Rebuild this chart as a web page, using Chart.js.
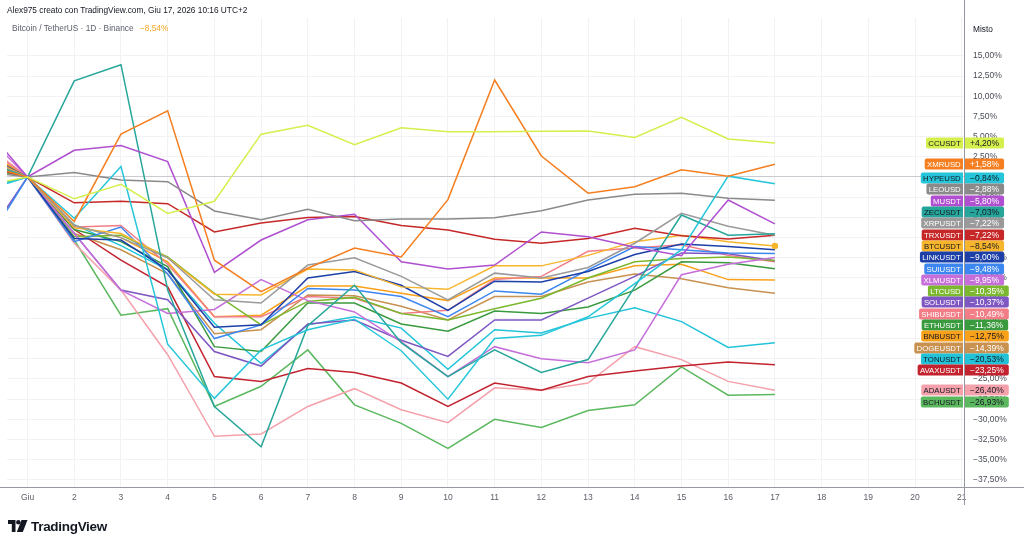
<!DOCTYPE html>
<html>
<head>
<meta charset="utf-8">
<script src="https://cdn.jsdelivr.net/npm/chart.js@4.4.1/dist/chart.umd.min.js"></script>
<style>
    html, body { margin: 0; padding: 0; background: #fff; }
    #wrap { position: relative; width: 1024px; height: 546px; font-family: "Liberation Sans", Arial, sans-serif; }
    #wrap canvas { position: absolute; left: 0; top: 0; }
    .head1 { position: absolute; left: 7px; top: 5px; font-size: 8.3px; line-height: 10px; color: #131722; }
    .head2 { position: absolute; left: 12px; top: 23px; font-size: 8.3px; line-height: 10px; color: #5d606b; }
    .head2 span { color: #f5a623; margin-left: 4px; }
    .misto { position: absolute; left: 973px; top: 24px; font-size: 8.3px; line-height: 10px; color: #131722; }
    .logo { position: absolute; left: 8px; top: 518px; height: 16px; display: flex; align-items: center; }
    .logo span { font-size: 13.5px; font-weight: bold; color: #131722; margin-left: 3px; letter-spacing: -0.3px; }
</style>
</head>
<body>
<div id="wrap">
    <canvas id="chart" width="1024" height="546"></canvas>
    <div class="head1">Alex975 creato con TradingView.com, Giu 17, 2026 10:16 UTC+2</div>
    <div class="head2">Bitcoin / TetherUS · 1D · Binance <span>−8,54%</span></div>
    <div class="misto">Misto</div>
    <div class="logo">
        <svg width="20" height="12" viewBox="0 0 20 12">
            <path d="M0 0 H7.5 V12 H3.8 V4 H0 Z" fill="#131722"/>
            <circle cx="10.3" cy="2.2" r="2.2" fill="#131722"/>
            <path d="M13.5 0 H19.5 L14.8 12 H8.8 Z" fill="#131722"/>
        </svg>
        <span>TradingView</span>
    </div>
</div>
<script>
// giorni (0 = 31 mag, 1 = 1 giu ... 17 = 17 giu)
const days = [0, 1, 2, 3, 4, 5, 6, 7, 8, 9, 10, 11, 12, 13, 14, 15, 16, 17];

// variazione % rispetto al 1 giugno
const ccusdt   = [-1.1, 0, -2.7, -0.9, -4.5, -3.0, 5.3, 6.4, 4.0, 6.1, 5.6, 5.6, 5.65, 5.7, 4.9, 7.4, 4.7, 4.20];
const xmrusd   = [1.6, 0, -5.5, 5.3, 8.2, -10.3, -14.2, -11.3, -8.8, -9.9, -2.8, 12.0, 2.6, -2.0, -1.2, 0.9, 0.1, 1.58];
const hypeusd  = [-1.8, 0, -5.1, 1.3, -20.7, -27.4, -21.4, -18.9, -17.6, -21.5, -27.5, -20.0, -19.6, -17.3, -13.2, -9.0, 0.1, -0.84];
const leousd   = [0.7, 0, 0.55, -0.37, -0.58, -4.2, -5.3, -4.0, -5.4, -5.2, -5.2, -5.03, -4.17, -2.85, -2.15, -2.0, -2.64, -2.88];
const musdt    = [6.8, 0, 3.3, 3.9, 1.9, -11.8, -7.8, -5.3, -4.6, -10.5, -11.4, -10.9, -6.8, -7.4, -8.7, -9.75, -2.85, -5.80];
const zecusdt  = [2.0, 0, 11.9, 13.9, -14.0, -28.4, -33.4, -18.4, -13.4, -20.5, -24.7, -21.4, -24.2, -22.6, -13.6, -4.7, -7.2, -7.03];
const xrpusdt  = [2.3, 0, -6.0, -7.5, -10.0, -15.2, -15.6, -10.9, -10.0, -12.3, -15.2, -11.9, -12.5, -11.2, -8.2, -4.5, -6.1, -7.22];
const trxusdt  = [1.4, 0, -3.2, -3.0, -3.3, -6.8, -5.7, -5.0, -4.9, -6.0, -6.56, -7.7, -8.2, -7.6, -6.35, -7.26, -7.67, -7.22];
const btcusdt  = [2.7, 0, -6.3, -7.0, -10.0, -14.5, -14.6, -11.4, -11.5, -13.6, -13.9, -11.0, -11.0, -9.7, -8.0, -7.2, -8.0, -8.54];
const linkusdt = [3.0, 0, -7.6, -7.8, -11.5, -18.6, -18.3, -12.5, -11.7, -13.4, -16.5, -12.9, -13.0, -11.7, -9.6, -8.3, -8.6, -9.00];
const suiusdt  = [-9.3, 0, -8.0, -6.2, -12.0, -20.0, -18.3, -13.8, -14.0, -14.8, -17.3, -14.1, -14.5, -11.5, -8.6, -9.0, -9.4, -9.48];
const xlmusdt  = [5.9, 0, -7.0, -14.0, -16.9, -16.4, -12.7, -15.3, -16.7, -20.4, -24.7, -21.0, -22.5, -23.0, -21.4, -12.1, -10.8, -9.95];
const ltcusd   = [1.8, 0, -7.4, -7.2, -9.9, -14.4, -18.3, -15.4, -14.9, -16.9, -17.7, -16.3, -15.0, -12.5, -10.5, -10.1, -9.9, -10.35];
const solusdt  = [-8.6, 0, -7.0, -14.0, -15.2, -21.6, -23.4, -18.2, -17.7, -20.2, -22.2, -17.7, -17.7, -15.0, -12.3, -9.4, -9.5, -10.37];
const shibusdt = [4.1, 0, -6.2, -6.0, -10.8, -17.3, -17.3, -14.8, -15.0, -16.9, -16.5, -12.7, -12.3, -9.2, -8.8, -8.4, -9.7, -10.49];
const ethusdt  = [2.5, 0, -6.5, -8.0, -11.1, -21.0, -21.6, -15.6, -15.6, -18.2, -19.1, -16.6, -16.9, -16.1, -14.0, -10.5, -10.6, -11.36];
const bnbusdt  = [3.6, 0, -6.0, -7.5, -10.5, -17.3, -17.1, -13.5, -13.5, -14.4, -15.3, -12.5, -12.5, -12.5, -11.0, -10.8, -12.7, -12.75];
const dogeusdt = [3.4, 0, -7.0, -9.0, -12.0, -19.4, -18.9, -14.6, -14.7, -16.0, -17.7, -14.8, -14.8, -13.0, -12.0, -12.6, -13.7, -14.39];
const tonusdt  = [-1.4, 0, -5.9, -8.5, -11.5, -18.1, -23.1, -18.3, -17.3, -18.7, -23.8, -18.9, -19.3, -17.5, -16.2, -17.9, -21.1, -20.53];
const avaxusdt = [2.3, 0, -6.5, -10.3, -13.6, -24.7, -25.3, -23.7, -24.2, -25.5, -28.4, -25.5, -26.4, -24.7, -24.0, -23.4, -22.9, -23.25];
const adausdt  = [4.5, 0, -8.2, -14.0, -22.0, -32.1, -31.8, -28.4, -26.2, -28.8, -30.4, -26.1, -26.4, -25.5, -21.0, -22.6, -25.3, -26.40];
const bchusdt  = [1.1, 0, -7.8, -17.1, -16.3, -28.4, -25.9, -21.4, -28.2, -30.5, -33.6, -30.0, -31.0, -28.9, -28.2, -23.5, -27.0, -26.93];

const seriesNames = ['CCUSDT', 'XMRUSD', 'HYPEUSD', 'LEOUSD', 'MUSDT', 'ZECUSDT', 'XRPUSDT', 'TRXUSDT',
    'BTCUSDT', 'LINKUSDT', 'SUIUSDT', 'XLMUSDT', 'LTCUSD', 'SOLUSDT', 'SHIBUSDT', 'ETHUSDT',
    'BNBUSDT', 'DOGEUSDT', 'TONUSDT', 'AVAXUSDT', 'ADAUSDT', 'BCHUSDT'];
const seriesValues = [ccusdt, xmrusd, hypeusd, leousd, musdt, zecusdt, xrpusdt, trxusdt,
    btcusdt, linkusdt, suiusdt, xlmusdt, ltcusd, solusdt, shibusdt, ethusdt,
    bnbusdt, dogeusdt, tonusdt, avaxusdt, adausdt, bchusdt];
const mainSymbol = 'BTCUSDT';

const dayTicks = [1, 2, 3, 4, 5, 6, 7, 8, 9, 10, 11, 12, 13, 14, 15, 16, 17, 18, 19, 20, 21];
const pctTicks = [-37.5, -35, -32.5, -30, -27.5, -25, -22.5, -20, -17.5, -15, -12.5, -10, -7.5, -5, -2.5, 0, 2.5, 5, 7.5, 10, 12.5, 15];

// colori linee / etichette
const seriesColors = ['#d6ef4c', '#f57f20', '#26c6da', '#8a8a8a', '#b04fd0', '#26a69a', '#9a9a9a', '#c62828',
    '#f7b52c', '#1c3fa8', '#3c86f0', '#c66fdb', '#7cb82f', '#7e57c2', '#f27d86', '#3a9a3e',
    '#f9a11b', '#c89150', '#22c3d9', '#c2232f', '#f4a1ab', '#5cb85f'];
const tagTextColors = ['#131722', '#fff', '#131722', '#fff', '#fff', '#131722', '#fff', '#fff',
    '#131722', '#fff', '#fff', '#fff', '#fff', '#fff', '#fff', '#fff',
    '#131722', '#fff', '#131722', '#fff', '#131722', '#131722'];

const fmtPct = (v, sign) => {
    const s = Math.abs(v).toFixed(2).replace('.', ',') + '%';
    if (v < 0) return '\u2212' + s;
    return (sign && v > 0 ? '+' : '') + s;
};

const AXIS_X = 964.5, AXIS_Y = 487.5;

// linee asse + etichette a destra (stile TradingView)
const tagPlugin = {
    id: 'tags',
    afterDatasetsDraw(chart) {
        const ctx = chart.ctx;
        const ys = chart.scales.y;
        ctx.save();
        ctx.strokeStyle = '#9598a1';
        ctx.lineWidth = 1;
        ctx.beginPath();
        ctx.moveTo(AXIS_X, 0);
        ctx.lineTo(AXIS_X, 505);
        ctx.moveTo(0, AXIS_Y);
        ctx.lineTo(1024, AXIS_Y);
        ctx.stroke();

        const items = chart.data.datasets.map((ds, i) => {
            const v = ds.data[ds.data.length - 1].y;
            return { i, v, y: ys.getPixelForValue(v), name: ds.label };
        });
        items.sort((a, b) => b.v - a.v);
        const gap = 11.3;
        const m = items.findIndex(t => t.name === mainSymbol);
        for (let k = m - 1; k >= 0; k--) items[k].y = Math.min(items[k].y, items[k + 1].y - gap);
        for (let k = m + 1; k < items.length; k++) items[k].y = Math.max(items[k].y, items[k - 1].y + gap);

        const nameFont = '7.8px "Liberation Sans", Arial, sans-serif';
        const valFont = '8.5px "Liberation Sans", Arial, sans-serif';
        ctx.textBaseline = 'middle';
        ctx.textAlign = 'center';
        items.forEach(t => {
            const bg = seriesColors[t.i];
            const fg = tagTextColors[t.i];
            const val = fmtPct(t.v, true);
            ctx.font = nameFont;
            const w1 = ctx.measureText(t.name).width + 4.5;
            ctx.font = valFont;
            const w2 = ctx.measureText(val).width + 10;
            const top = Math.round(t.y) - 5.5;
            ctx.fillStyle = bg;
            ctx.beginPath();
            ctx.roundRect(963 - w1, top, w1, 11, [2, 0, 0, 2]);
            ctx.fill();
            ctx.beginPath();
            ctx.roundRect(965, top, w2, 11, [0, 2, 2, 0]);
            ctx.fill();
            ctx.fillStyle = fg;
            ctx.font = nameFont;
            ctx.fillText(t.name, 963 - w1 / 2, top + 6);
            ctx.font = valFont;
            ctx.fillText(val, 965 + w2 / 2, top + 6);
        });
        ctx.restore();
    }
};

const datasets = seriesNames.map((name, i) => ({
    label: name,
    data: days.map((d, j) => ({ x: d, y: seriesValues[i][j] })),
    borderColor: seriesColors[i],
    backgroundColor: seriesColors[i],
    borderWidth: 1.5,
    pointRadius: name === mainSymbol ? days.map((d, j) => j === days.length - 1 ? 2.5 : 0) : 0,
    tension: 0
}));

new Chart(document.getElementById('chart'), {
    type: 'line',
    data: { datasets },
    plugins: [tagPlugin],
    options: {
        responsive: false,
        animation: false,
        devicePixelRatio: 1,
        layout: { padding: { left: 7, top: 18, right: 0, bottom: 0 } },
        plugins: { legend: { display: false }, tooltip: { enabled: false } },
        scales: {
            x: {
                type: 'linear',
                min: 0.56,
                max: 21.07,
                afterBuildTicks: s => { s.ticks = dayTicks.map(v => ({ value: v })); },
                afterFit: s => { s.height = 59; },
                grid: { color: '#f0f2f6', drawTicks: false },
                border: { display: false },
                ticks: {
                    padding: 6,
                    color: '#5d606b',
                    font: { size: 8.5, family: '"Liberation Sans", Arial, sans-serif' },
                    callback: v => v === 1 ? 'Giu' : String(v)
                }
            },
            y: {
                position: 'right',
                min: -38.37,
                max: 19.68,
                afterBuildTicks: s => { s.ticks = pctTicks.map(v => ({ value: v })); },
                afterFit: s => { s.width = 59; },
                grid: {
                    color: c => c.tick && c.tick.value === 0 ? '#c9cbd1' : '#f0f2f6',
                    drawTicks: false
                },
                border: { display: false },
                ticks: {
                    padding: 8,
                    color: '#4a4d57',
                    font: { size: 8.5, family: '"Liberation Sans", Arial, sans-serif' },
                    callback: v => fmtPct(v, false)
                }
            }
        }
    }
});
</script>
</body>
</html>
